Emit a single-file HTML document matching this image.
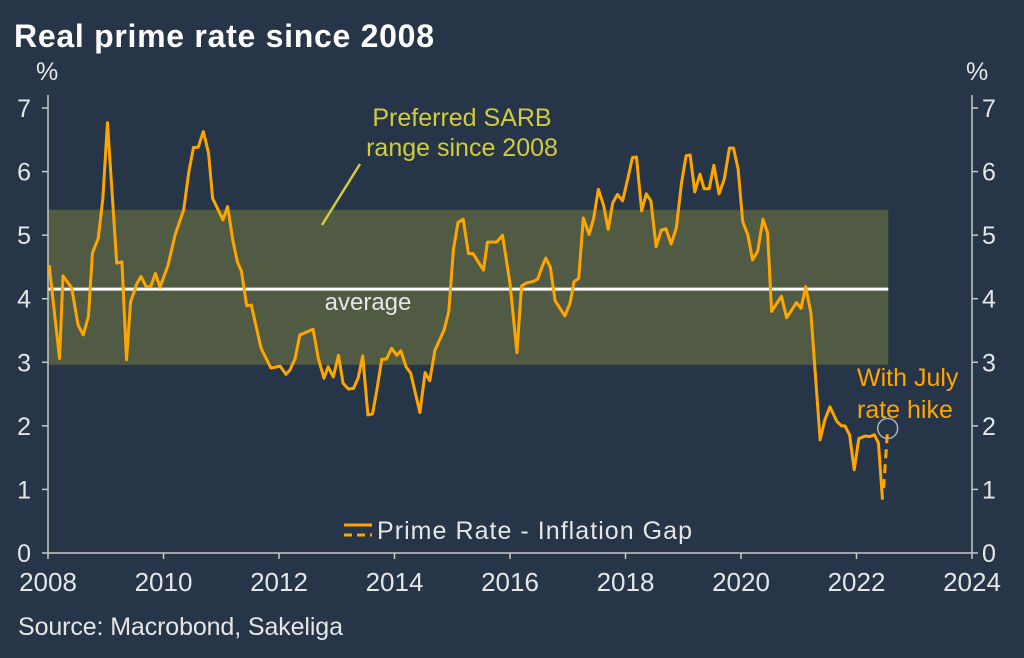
<!DOCTYPE html>
<html><head><meta charset="utf-8"><style>
body{margin:0;background:#263547;}
svg{display:block;font-family:"Liberation Sans",sans-serif;}
</style></head><body>
<svg id="c" width="1024" height="658">
<rect width="1024" height="658" fill="#263547"/>
<text x="14" y="47" fill="#ffffff" font-size="32" font-weight="bold" textLength="420">Real prime rate since 2008</text>
<text x="36" y="80" fill="#e6e6e6" font-size="25">%</text>
<text x="966" y="80" fill="#e6e6e6" font-size="25">%</text>
<text x="18" y="635" fill="#e6e6e6" font-size="25" textLength="325">Source: Macrobond, Sakeliga</text>
<g id="g"></g>
</svg>
<script>
const years=[2008.02,2008.20,2008.26,2008.41,2008.52,2008.61,2008.70,2008.77,2008.87,2008.95,2009.03,2009.19,2009.28,2009.36,2009.43,2009.54,2009.61,2009.70,2009.78,2009.86,2009.94,2010.08,2010.20,2010.35,2010.44,2010.52,2010.60,2010.69,2010.78,2010.85,2011.03,2011.11,2011.20,2011.28,2011.35,2011.44,2011.52,2011.69,2011.86,2012.02,2012.12,2012.19,2012.28,2012.36,2012.59,2012.68,2012.78,2012.85,2012.94,2013.03,2013.11,2013.20,2013.29,2013.37,2013.45,2013.54,2013.62,2013.69,2013.78,2013.86,2013.95,2014.04,2014.11,2014.20,2014.28,2014.44,2014.53,2014.61,2014.70,2014.86,2014.94,2015.02,2015.10,2015.19,2015.28,2015.36,2015.54,2015.61,2015.77,2015.87,2016.00,2016.12,2016.20,2016.29,2016.40,2016.48,2016.55,2016.62,2016.70,2016.78,2016.95,2017.04,2017.11,2017.19,2017.27,2017.37,2017.45,2017.53,2017.62,2017.70,2017.78,2017.86,2017.95,2018.04,2018.12,2018.19,2018.28,2018.36,2018.44,2018.53,2018.62,2018.70,2018.79,2018.88,2018.97,2019.05,2019.12,2019.20,2019.29,2019.36,2019.45,2019.53,2019.62,2019.71,2019.80,2019.87,2019.95,2020.03,2020.12,2020.20,2020.29,2020.38,2020.46,2020.53,2020.70,2020.79,2020.96,2021.04,2021.12,2021.21,2021.37,2021.45,2021.54,2021.66,2021.74,2021.80,2021.88,2021.96,2022.04,2022.15,2022.23,2022.31,2022.38,2022.45];
const gap=[4.53,3.06,4.36,4.17,3.59,3.43,3.72,4.72,4.95,5.58,6.77,4.56,4.58,3.04,3.95,4.24,4.35,4.19,4.19,4.40,4.18,4.53,5.00,5.40,6.00,6.38,6.38,6.63,6.29,5.58,5.24,5.45,4.92,4.58,4.43,3.89,3.90,3.22,2.91,2.94,2.81,2.88,3.06,3.43,3.52,3.06,2.75,2.93,2.77,3.11,2.67,2.58,2.59,2.75,3.10,2.17,2.19,2.54,3.05,3.05,3.22,3.11,3.18,2.93,2.83,2.21,2.84,2.71,3.19,3.51,3.80,4.77,5.20,5.25,4.71,4.71,4.45,4.89,4.89,5.00,4.24,3.15,4.20,4.25,4.27,4.31,4.49,4.64,4.49,3.97,3.73,3.93,4.27,4.32,5.27,5.01,5.27,5.72,5.47,5.09,5.51,5.64,5.54,5.89,6.22,6.23,5.38,5.65,5.54,4.82,5.08,5.10,4.86,5.11,5.82,6.25,6.26,5.68,5.96,5.73,5.73,6.10,5.65,5.88,6.37,6.37,6.04,5.21,5.00,4.61,4.75,5.25,5.04,3.80,4.04,3.70,3.94,3.85,4.19,3.78,1.78,2.09,2.30,2.07,2.00,2.00,1.86,1.31,1.80,1.84,1.83,1.86,1.73,0.84];
const hikeYears=[2022.47,2022.54];
const hikeValues=[1.02,1.96];
const bandRange=[2.96,5.40];
const bandEnd=2022.55;
const averageValue=4.15;
const yTicks=[0,1,2,3,4,5,6,7];
const xTicks=[2008,2010,2012,2014,2016,2018,2020,2022,2024];
const X0=48,X1=972,Y0=553,Y7=108;
const x=y=>X0+(y-2008)*(X1-X0)/16;
const yv=v=>Y0-v*(Y0-Y7)/7;
const g=document.getElementById('g');
const NS='http://www.w3.org/2000/svg';
function mk(t,a){const e=document.createElementNS(NS,t);for(const k in a)e.setAttribute(k,a[k]);g.appendChild(e);return e;}
let e;
e=mk('rect',{x:x(2008),y:yv(bandRange[1]),width:x(bandEnd)-x(2008),height:yv(bandRange[0])-yv(bandRange[1]),fill:'#515a43'});


e=mk('line',{x1:x(2008),x2:x(bandEnd),y1:yv(averageValue),y2:yv(averageValue),stroke:'#ffffff','stroke-width':3});


e=mk('text',{x:368,y:310,fill:'#e6e6e6','font-size':24,'text-anchor':'middle'});e.textContent='average';


e=mk('line',{x1:X0,x2:X0,y1:95,y2:553,stroke:'#c8c8c8','stroke-width':1.5});


e=mk('line',{x1:X1,x2:X1,y1:95,y2:553,stroke:'#c8c8c8','stroke-width':1.5});


e=mk('line',{x1:X0,x2:X1,y1:553,y2:553,stroke:'#c8c8c8','stroke-width':1.5});


yTicks.forEach(t=>{
 e=mk('line',{x1:X0-6,x2:X0,y1:yv(t),y2:yv(t),stroke:'#c8c8c8','stroke-width':1.5});
 
 
 e=mk('line',{x1:X1,x2:X1+6,y1:yv(t),y2:yv(t),stroke:'#c8c8c8','stroke-width':1.5});
 
 
 e=mk('text',{x:31,y:yv(t)+9,fill:'#e6e6e6','font-size':25,'text-anchor':'end'});e.textContent=t;
 
 
 e=mk('text',{x:982,y:yv(t)+9,fill:'#e6e6e6','font-size':25});e.textContent=t;
 
 
});
xTicks.forEach(t=>{
 e=mk('line',{x1:x(t),x2:x(t),y1:553,y2:559,stroke:'#c8c8c8','stroke-width':1.5});
 
 
 e=mk('text',{x:x(t),y:591,fill:'#e6e6e6','font-size':26,'text-anchor':'middle'});e.textContent=t;
 
 
});
e=mk('polyline',{points:years.map((t,i)=>x(t)+','+yv(gap[i])).join(' '),fill:'none',stroke:'#ffa500','stroke-width':3,'stroke-linejoin':'round'});


e=mk('polyline',{points:hikeYears.map((t,i)=>x(t)+','+yv(hikeValues[i])).join(' '),fill:'none',stroke:'#ffa500','stroke-width':3,'stroke-dasharray':'9,6'});


e=mk('circle',{cx:x(hikeYears[1]),cy:yv(hikeValues[1]),r:10,fill:'none',stroke:'#b0b0b0','stroke-width':1.5});


e=mk('text',{x:857,y:386,fill:'#ffa500','font-size':25});e.textContent='With July';


e=mk('text',{x:857,y:418,fill:'#ffa500','font-size':25});e.textContent='rate hike';


e=mk('text',{x:462,y:126,fill:'#d1cc3d','font-size':25,'text-anchor':'middle'});e.textContent='Preferred SARB';


e=mk('text',{x:462,y:156,fill:'#d1cc3d','font-size':25,'text-anchor':'middle'});e.textContent='range since 2008';


e=mk('line',{x1:360,y1:164,x2:322,y2:225,stroke:'#d1cc3d','stroke-width':2.5});


e=mk('line',{x1:344,x2:372,y1:525,y2:525,stroke:'#ffa500','stroke-width':3});


e=mk('line',{x1:344,x2:372,y1:535,y2:535,stroke:'#ffa500','stroke-width':3,'stroke-dasharray':'8,5'});


e=mk('text',{x:377,y:539,fill:'#e6e6e6','font-size':25,textLength:315});e.textContent='Prime Rate - Inflation Gap';


</script>
</body></html>
